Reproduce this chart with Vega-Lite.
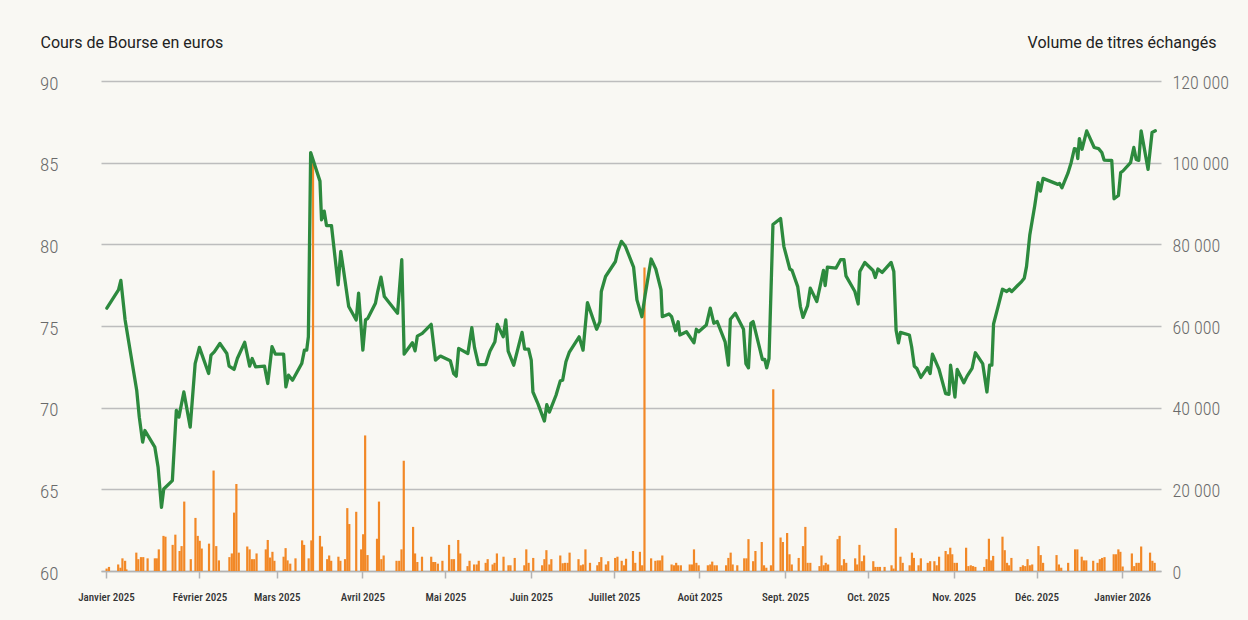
{
  "$schema": "https://vega.github.io/schema/vega-lite/v6.json",
  "width": 1060,
  "height": 490,
  "autosize": {"type": "none"},
  "padding": {"left": 101, "top": 81, "right": 87, "bottom": 49},
  "background": "#f9f8f3",
  "config": {"view": {"stroke": null}, "font": "Roboto"},
  "datasets": {
    "cours": [
      {"jour": -2.5, "cours": 76.09}, {"jour": 1.71, "cours": 77.21}, {"jour": 2.57, "cours": 77.79}, {"jour": 4.11, "cours": 75.37},
      {"jour": 8.3, "cours": 71.07}, {"jour": 9.24, "cours": 69.42}, {"jour": 10.46, "cours": 67.89}, {"jour": 11.28, "cours": 68.6},
      {"jour": 14.87, "cours": 67.58}, {"jour": 16.05, "cours": 66.35}, {"jour": 17.27, "cours": 63.9}, {"jour": 18.09, "cours": 65.02},
      {"jour": 21.21, "cours": 65.53}, {"jour": 22.65, "cours": 69.84}, {"jour": 23.58, "cours": 69.42}, {"jour": 25.37, "cours": 70.96},
      {"jour": 27.67, "cours": 68.81}, {"jour": 29.46, "cours": 72.7}, {"jour": 31.0, "cours": 73.69}, {"jour": 34.34, "cours": 72.09},
      {"jour": 35.2, "cours": 73.22}, {"jour": 36.38, "cours": 73.42}, {"jour": 38.42, "cours": 73.93}, {"jour": 40.93, "cours": 73.32},
      {"jour": 41.76, "cours": 72.54}, {"jour": 43.55, "cours": 72.34}, {"jour": 44.73, "cours": 73.01}, {"jour": 47.39, "cours": 74.0},
      {"jour": 49.18, "cours": 72.54}, {"jour": 50.11, "cours": 73.01}, {"jour": 51.33, "cours": 72.5}, {"jour": 54.56, "cours": 72.54},
      {"jour": 55.74, "cours": 71.48}, {"jour": 57.28, "cours": 73.73}, {"jour": 58.5, "cours": 73.28}, {"jour": 61.48, "cours": 73.28},
      {"jour": 62.3, "cours": 71.27}, {"jour": 63.27, "cours": 71.99}, {"jour": 64.71, "cours": 71.68}, {"jour": 68.04, "cours": 72.7},
      {"jour": 69.01, "cours": 73.52}, {"jour": 69.83, "cours": 73.52}, {"jour": 70.44, "cours": 74.34}, {"jour": 71.27, "cours": 85.62},
      {"jour": 74.64, "cours": 83.87}, {"jour": 75.21, "cours": 81.5}, {"jour": 76.18, "cours": 82.03}, {"jour": 77.0, "cours": 81.15},
      {"jour": 78.8, "cours": 81.15}, {"jour": 81.2, "cours": 77.52}, {"jour": 82.17, "cours": 79.57}, {"jour": 83.24, "cours": 78.34},
      {"jour": 85.04, "cours": 76.19}, {"jour": 87.76, "cours": 75.37}, {"jour": 88.62, "cours": 77.01}, {"jour": 90.16, "cours": 73.52},
      {"jour": 91.13, "cours": 75.37}, {"jour": 91.96, "cours": 75.47}, {"jour": 94.72, "cours": 76.39}, {"jour": 95.54, "cours": 77.11},
      {"jour": 96.73, "cours": 77.99}, {"jour": 97.94, "cours": 76.8}, {"jour": 102.71, "cours": 75.78}, {"jour": 104.25, "cours": 79.06},
      {"jour": 105.11, "cours": 73.28}, {"jour": 108.09, "cours": 73.97}, {"jour": 109.06, "cours": 73.48}, {"jour": 109.88, "cours": 74.38},
      {"jour": 111.67, "cours": 74.55}, {"jour": 114.9, "cours": 75.1}, {"jour": 116.44, "cours": 72.91}, {"jour": 118.23, "cours": 73.16},
      {"jour": 121.82, "cours": 72.87}, {"jour": 123.04, "cours": 72.09}, {"jour": 123.97, "cours": 71.93}, {"jour": 124.83, "cours": 73.63},
      {"jour": 128.17, "cours": 73.32}, {"jour": 129.6, "cours": 74.9}, {"jour": 130.57, "cours": 73.69}, {"jour": 132.0, "cours": 72.64},
      {"jour": 134.62, "cours": 72.64}, {"jour": 136.16, "cours": 73.46}, {"jour": 137.96, "cours": 74.03}, {"jour": 138.82, "cours": 75.1},
      {"jour": 140.97, "cours": 74.34}, {"jour": 141.9, "cours": 75.37}, {"jour": 142.76, "cours": 73.46}, {"jour": 144.77, "cours": 72.6},
      {"jour": 147.78, "cours": 74.61}, {"jour": 148.71, "cours": 73.59}, {"jour": 150.15, "cours": 73.59}, {"jour": 151.11, "cours": 72.91},
      {"jour": 151.72, "cours": 70.96}, {"jour": 153.52, "cours": 70.25}, {"jour": 155.88, "cours": 69.18}, {"jour": 156.74, "cours": 70.18},
      {"jour": 157.68, "cours": 69.73}, {"jour": 160.08, "cours": 70.76}, {"jour": 161.62, "cours": 71.64}, {"jour": 162.48, "cours": 71.68},
      {"jour": 163.67, "cours": 72.81}, {"jour": 164.85, "cours": 73.38}, {"jour": 168.44, "cours": 74.34}, {"jour": 169.87, "cours": 73.52},
      {"jour": 171.45, "cours": 76.43}, {"jour": 174.78, "cours": 74.8}, {"jour": 175.96, "cours": 75.27}, {"jour": 176.47, "cours": 77.11},
      {"jour": 178.01, "cours": 78.03}, {"jour": 181.59, "cours": 78.95}, {"jour": 182.42, "cours": 79.57}, {"jour": 183.74, "cours": 80.18},
      {"jour": 185.18, "cours": 79.88}, {"jour": 188.15, "cours": 78.61}, {"jour": 189.37, "cours": 76.6}, {"jour": 191.16, "cours": 75.57},
      {"jour": 192.35, "cours": 76.91}, {"jour": 194.5, "cours": 79.1}, {"jour": 196.19, "cours": 78.49}, {"jour": 198.09, "cours": 77.21},
      {"jour": 198.55, "cours": 75.57}, {"jour": 200.95, "cours": 75.74}, {"jour": 201.92, "cours": 75.57}, {"jour": 203.36, "cours": 74.71},
      {"jour": 204.29, "cours": 75.26}, {"jour": 204.9, "cours": 74.45}, {"jour": 207.3, "cours": 74.65}, {"jour": 210.02, "cours": 73.97},
      {"jour": 210.88, "cours": 74.8}, {"jour": 211.71, "cours": 74.65}, {"jour": 214.47, "cours": 75.06}, {"jour": 215.91, "cours": 76.09},
      {"jour": 217.2, "cours": 75.17}, {"jour": 218.42, "cours": 75.27}, {"jour": 221.29, "cours": 74.03}, {"jour": 222.47, "cours": 72.6},
      {"jour": 223.18, "cours": 75.41}, {"jour": 224.98, "cours": 75.78}, {"jour": 227.95, "cours": 74.8}, {"jour": 228.81, "cours": 72.7},
      {"jour": 229.74, "cours": 72.44}, {"jour": 230.6, "cours": 75.17}, {"jour": 231.43, "cours": 75.27}, {"jour": 234.77, "cours": 72.95},
      {"jour": 235.63, "cours": 72.95}, {"jour": 236.34, "cours": 72.44}, {"jour": 237.17, "cours": 73.01}, {"jour": 238.6, "cours": 81.21},
      {"jour": 241.36, "cours": 81.58}, {"jour": 242.55, "cours": 79.88}, {"jour": 244.7, "cours": 78.49}, {"jour": 245.52, "cours": 78.4},
      {"jour": 247.57, "cours": 77.41}, {"jour": 248.53, "cours": 76.19}, {"jour": 249.47, "cours": 75.53}, {"jour": 251.15, "cours": 76.25},
      {"jour": 252.12, "cours": 77.32}, {"jour": 254.48, "cours": 76.5}, {"jour": 256.89, "cours": 78.4}, {"jour": 257.5, "cours": 77.48},
      {"jour": 258.32, "cours": 78.61}, {"jour": 261.44, "cours": 78.55}, {"jour": 263.09, "cours": 79.06}, {"jour": 264.31, "cours": 79.06},
      {"jour": 265.03, "cours": 78.07}, {"jour": 268.26, "cours": 77.11}, {"jour": 269.44, "cours": 76.35}, {"jour": 270.05, "cours": 78.34},
      {"jour": 271.84, "cours": 78.89}, {"jour": 274.82, "cours": 78.4}, {"jour": 275.64, "cours": 77.97}, {"jour": 276.61, "cours": 78.49},
      {"jour": 278.15, "cours": 78.28}, {"jour": 281.38, "cours": 78.89}, {"jour": 282.35, "cours": 78.34}, {"jour": 283.17, "cours": 74.75},
      {"jour": 284.03, "cours": 73.97}, {"jour": 284.75, "cours": 74.61}, {"jour": 287.98, "cours": 74.45}, {"jour": 288.8, "cours": 73.73},
      {"jour": 289.77, "cours": 72.54}, {"jour": 290.7, "cours": 72.4}, {"jour": 292.14, "cours": 71.85}, {"jour": 294.54, "cours": 72.46},
      {"jour": 295.5, "cours": 72.09}, {"jour": 296.33, "cours": 73.28}, {"jour": 298.73, "cours": 72.34}, {"jour": 301.1, "cours": 70.86},
      {"jour": 302.32, "cours": 70.82}, {"jour": 302.89, "cours": 72.6}, {"jour": 304.47, "cours": 70.65}, {"jour": 305.29, "cours": 72.34},
      {"jour": 307.69, "cours": 71.52}, {"jour": 308.88, "cours": 71.93}, {"jour": 310.67, "cours": 72.4}, {"jour": 311.86, "cours": 73.36},
      {"jour": 314.51, "cours": 72.7}, {"jour": 316.05, "cours": 70.96}, {"jour": 317.02, "cours": 72.6}, {"jour": 317.84, "cours": 72.6},
      {"jour": 318.45, "cours": 75.12}, {"jour": 320.25, "cours": 76.29}, {"jour": 321.68, "cours": 77.25}, {"jour": 323.22, "cours": 77.11},
      {"jour": 324.19, "cours": 77.25}, {"jour": 325.01, "cours": 77.11}, {"jour": 326.81, "cours": 77.42}, {"jour": 328.6, "cours": 77.72},
      {"jour": 329.57, "cours": 77.93}, {"jour": 330.39, "cours": 78.65}, {"jour": 331.58, "cours": 80.59}, {"jour": 333.37, "cours": 82.38},
      {"jour": 334.59, "cours": 83.77}, {"jour": 335.41, "cours": 83.26}, {"jour": 336.38, "cours": 84.04}, {"jour": 341.75, "cours": 83.67},
      {"jour": 342.33, "cours": 83.73}, {"jour": 343.19, "cours": 83.46}, {"jour": 345.34, "cours": 84.34}, {"jour": 346.53, "cours": 85.0},
      {"jour": 347.71, "cours": 85.86}, {"jour": 348.57, "cours": 85.82}, {"jour": 348.93, "cours": 85.25}, {"jour": 349.51, "cours": 86.47},
      {"jour": 350.47, "cours": 85.82}, {"jour": 352.16, "cours": 86.95}, {"jour": 354.88, "cours": 85.93}, {"jour": 356.46, "cours": 85.86},
      {"jour": 357.64, "cours": 85.62}, {"jour": 358.47, "cours": 85.16}, {"jour": 360.04, "cours": 85.14}, {"jour": 361.23, "cours": 85.14},
      {"jour": 362.06, "cours": 82.79}, {"jour": 363.64, "cours": 82.99}, {"jour": 364.46, "cours": 84.39}, {"jour": 365.28, "cours": 84.49},
      {"jour": 368.04, "cours": 85.0}, {"jour": 369.22, "cours": 85.93}, {"jour": 370.08, "cours": 85.2}, {"jour": 371.01, "cours": 85.14},
      {"jour": 371.87, "cours": 86.95}, {"jour": 374.38, "cours": 84.59}, {"jour": 375.82, "cours": 86.85}, {"jour": 377.0, "cours": 86.95}
    ],
    "volumes": [
      {"jour": -2.59, "volume": 600}, {"jour": -1.73, "volume": 1000}, {"jour": 1.6, "volume": 1600}, {"jour": 2.42, "volume": 800},
      {"jour": 3.14, "volume": 3100}, {"jour": 4.11, "volume": 2500}, {"jour": 4.58, "volume": 400}, {"jour": 8.16, "volume": 4500},
      {"jour": 8.88, "volume": 2900}, {"jour": 9.85, "volume": 3400}, {"jour": 10.67, "volume": 3400}, {"jour": 12.25, "volume": 3100},
      {"jour": 14.87, "volume": 3100}, {"jour": 15.58, "volume": 3100}, {"jour": 16.3, "volume": 5300}, {"jour": 17.99, "volume": 8600},
      {"jour": 18.7, "volume": 8400}, {"jour": 21.32, "volume": 6400}, {"jour": 22.29, "volume": 8900}, {"jour": 23.83, "volume": 4900},
      {"jour": 24.55, "volume": 6100}, {"jour": 25.51, "volume": 17000}, {"jour": 27.88, "volume": 2900}, {"jour": 29.57, "volume": 13000},
      {"jour": 30.39, "volume": 8600}, {"jour": 31.11, "volume": 7400}, {"jour": 31.83, "volume": 5500}, {"jour": 34.48, "volume": 6700},
      {"jour": 36.13, "volume": 24600}, {"jour": 37.1, "volume": 6100}, {"jour": 38.06, "volume": 2600}, {"jour": 41.86, "volume": 3400},
      {"jour": 42.73, "volume": 4300}, {"jour": 43.55, "volume": 14300}, {"jour": 44.38, "volume": 21300}, {"jour": 45.24, "volume": 4500},
      {"jour": 48.32, "volume": 6000}, {"jour": 49.18, "volume": 5300}, {"jour": 50.0, "volume": 2900}, {"jour": 50.83, "volume": 2900},
      {"jour": 51.69, "volume": 4300}, {"jour": 55.03, "volume": 5300}, {"jour": 55.74, "volume": 7600}, {"jour": 56.57, "volume": 3300},
      {"jour": 57.43, "volume": 4700}, {"jour": 58.14, "volume": 2500}, {"jour": 61.48, "volume": 3500}, {"jour": 62.2, "volume": 5600},
      {"jour": 62.91, "volume": 2600}, {"jour": 63.88, "volume": 1800}, {"jour": 65.78, "volume": 3100}, {"jour": 68.18, "volume": 7500},
      {"jour": 68.9, "volume": 6400}, {"jour": 70.55, "volume": 3100}, {"jour": 71.52, "volume": 7500}, {"jour": 72.13, "volume": 100000},
      {"jour": 74.64, "volume": 8600}, {"jour": 75.35, "volume": 6000}, {"jour": 77.25, "volume": 2900}, {"jour": 77.97, "volume": 3800},
      {"jour": 78.69, "volume": 2500}, {"jour": 81.31, "volume": 3500}, {"jour": 82.02, "volume": 2500}, {"jour": 83.71, "volume": 2900},
      {"jour": 84.53, "volume": 15400}, {"jour": 85.25, "volume": 11500}, {"jour": 87.76, "volume": 14500}, {"jour": 89.55, "volume": 5300},
      {"jour": 90.27, "volume": 9000}, {"jour": 90.99, "volume": 33200}, {"jour": 91.85, "volume": 3900}, {"jour": 95.29, "volume": 7900},
      {"jour": 96.0, "volume": 17000}, {"jour": 96.86, "volume": 2900}, {"jour": 97.69, "volume": 3800}, {"jour": 102.35, "volume": 2500},
      {"jour": 103.32, "volume": 2500}, {"jour": 104.15, "volume": 5300}, {"jour": 104.97, "volume": 27000}, {"jour": 108.34, "volume": 10800},
      {"jour": 109.06, "volume": 4300}, {"jour": 109.88, "volume": 2200}, {"jour": 111.57, "volume": 3500}, {"jour": 114.9, "volume": 3500},
      {"jour": 115.62, "volume": 2200}, {"jour": 116.34, "volume": 2200}, {"jour": 117.31, "volume": 1800}, {"jour": 118.96, "volume": 2500},
      {"jour": 121.36, "volume": 6400}, {"jour": 122.32, "volume": 2900}, {"jour": 123.15, "volume": 2900}, {"jour": 124.69, "volume": 7600},
      {"jour": 125.41, "volume": 4300}, {"jour": 128.06, "volume": 1200}, {"jour": 128.78, "volume": 2500}, {"jour": 130.43, "volume": 1600},
      {"jour": 131.39, "volume": 1600}, {"jour": 132.11, "volume": 2500}, {"jour": 134.62, "volume": 2000}, {"jour": 135.34, "volume": 2900},
      {"jour": 137.13, "volume": 1600}, {"jour": 137.85, "volume": 2000}, {"jour": 138.68, "volume": 4300}, {"jour": 141.08, "volume": 3500},
      {"jour": 142.87, "volume": 1400}, {"jour": 143.59, "volume": 1400}, {"jour": 145.13, "volume": 3200}, {"jour": 148.61, "volume": 1400},
      {"jour": 149.32, "volume": 5300}, {"jour": 150.15, "volume": 2000}, {"jour": 151.83, "volume": 3200}, {"jour": 155.06, "volume": 1400},
      {"jour": 155.88, "volume": 2900}, {"jour": 156.6, "volume": 5100}, {"jour": 157.68, "volume": 1600}, {"jour": 158.39, "volume": 2900},
      {"jour": 161.62, "volume": 3800}, {"jour": 162.48, "volume": 1900}, {"jour": 163.31, "volume": 2000}, {"jour": 164.28, "volume": 2000},
      {"jour": 164.99, "volume": 4500}, {"jour": 168.22, "volume": 2900}, {"jour": 169.04, "volume": 1400}, {"jour": 169.87, "volume": 1600},
      {"jour": 170.73, "volume": 5300}, {"jour": 172.38, "volume": 2000}, {"jour": 175.03, "volume": 1400}, {"jour": 175.75, "volume": 2200},
      {"jour": 176.47, "volume": 3400}, {"jour": 178.12, "volume": 1600}, {"jour": 178.98, "volume": 2400}, {"jour": 181.49, "volume": 3200},
      {"jour": 182.31, "volume": 3500}, {"jour": 183.85, "volume": 2500}, {"jour": 184.71, "volume": 1400}, {"jour": 185.43, "volume": 3000},
      {"jour": 187.94, "volume": 4900}, {"jour": 188.76, "volume": 2000}, {"jour": 190.45, "volume": 4700}, {"jour": 191.27, "volume": 1400},
      {"jour": 192.1, "volume": 74300}, {"jour": 194.5, "volume": 3100}, {"jour": 196.04, "volume": 2500}, {"jour": 196.91, "volume": 2600},
      {"jour": 197.73, "volume": 2600}, {"jour": 198.55, "volume": 3800}, {"jour": 201.92, "volume": 1600}, {"jour": 202.75, "volume": 1400},
      {"jour": 203.57, "volume": 2000}, {"jour": 204.29, "volume": 1400}, {"jour": 205.26, "volume": 1400}, {"jour": 208.48, "volume": 1600},
      {"jour": 209.31, "volume": 1600}, {"jour": 210.02, "volume": 5300}, {"jour": 210.88, "volume": 2000}, {"jour": 211.71, "volume": 1400},
      {"jour": 215.04, "volume": 1400}, {"jour": 215.91, "volume": 1600}, {"jour": 216.62, "volume": 2300}, {"jour": 217.45, "volume": 1400},
      {"jour": 218.27, "volume": 1400}, {"jour": 221.64, "volume": 1400}, {"jour": 222.47, "volume": 3200}, {"jour": 223.29, "volume": 4500},
      {"jour": 224.01, "volume": 1600}, {"jour": 225.69, "volume": 1400}, {"jour": 228.2, "volume": 3100}, {"jour": 229.03, "volume": 3100},
      {"jour": 229.74, "volume": 7800}, {"jour": 231.43, "volume": 2400}, {"jour": 232.26, "volume": 4900}, {"jour": 234.55, "volume": 7100},
      {"jour": 235.37, "volume": 1400}, {"jour": 236.2, "volume": 800}, {"jour": 237.88, "volume": 1400}, {"jour": 238.71, "volume": 44500},
      {"jour": 241.36, "volume": 8200}, {"jour": 242.19, "volume": 7100}, {"jour": 243.73, "volume": 9300}, {"jour": 244.59, "volume": 4100},
      {"jour": 245.41, "volume": 1600}, {"jour": 247.92, "volume": 3200}, {"jour": 249.47, "volume": 6100}, {"jour": 250.33, "volume": 10800},
      {"jour": 251.15, "volume": 2000}, {"jour": 252.12, "volume": 2000}, {"jour": 255.45, "volume": 1200}, {"jour": 256.17, "volume": 3800},
      {"jour": 256.99, "volume": 1400}, {"jour": 257.71, "volume": 2000}, {"jour": 258.57, "volume": 1600}, {"jour": 262.01, "volume": 7800},
      {"jour": 262.73, "volume": 8600}, {"jour": 263.45, "volume": 1400}, {"jour": 264.31, "volume": 2900}, {"jour": 265.13, "volume": 2000},
      {"jour": 268.36, "volume": 3100}, {"jour": 269.08, "volume": 1600}, {"jour": 269.91, "volume": 6400}, {"jour": 270.76, "volume": 2400},
      {"jour": 271.59, "volume": 3800}, {"jour": 274.92, "volume": 2400}, {"jour": 275.64, "volume": 1000}, {"jour": 276.5, "volume": 1000},
      {"jour": 277.33, "volume": 1000}, {"jour": 279.01, "volume": 1000}, {"jour": 281.52, "volume": 1400}, {"jour": 282.24, "volume": 600},
      {"jour": 283.06, "volume": 10500}, {"jour": 284.75, "volume": 3500}, {"jour": 285.57, "volume": 2000}, {"jour": 288.08, "volume": 1400},
      {"jour": 288.91, "volume": 4500}, {"jour": 289.62, "volume": 3200}, {"jour": 291.31, "volume": 1400}, {"jour": 292.14, "volume": 3100},
      {"jour": 294.64, "volume": 2000}, {"jour": 295.5, "volume": 2400}, {"jour": 297.04, "volume": 2400}, {"jour": 297.87, "volume": 1400},
      {"jour": 298.73, "volume": 3500}, {"jour": 301.1, "volume": 4900}, {"jour": 301.96, "volume": 4100}, {"jour": 302.78, "volume": 5700},
      {"jour": 303.5, "volume": 4100}, {"jour": 304.33, "volume": 2000}, {"jour": 305.19, "volume": 2000}, {"jour": 308.52, "volume": 5700},
      {"jour": 309.34, "volume": 1200}, {"jour": 310.21, "volume": 1400}, {"jour": 311.03, "volume": 1200}, {"jour": 311.86, "volume": 1000},
      {"jour": 315.08, "volume": 1000}, {"jour": 315.94, "volume": 2900}, {"jour": 316.77, "volume": 7900}, {"jour": 317.59, "volume": 2600},
      {"jour": 318.31, "volume": 3700}, {"jour": 321.68, "volume": 8400}, {"jour": 322.5, "volume": 5100}, {"jour": 323.33, "volume": 2000},
      {"jour": 324.04, "volume": 1400}, {"jour": 324.91, "volume": 3200}, {"jour": 328.24, "volume": 1000}, {"jour": 329.07, "volume": 1400},
      {"jour": 329.93, "volume": 1200}, {"jour": 330.75, "volume": 2900}, {"jour": 331.58, "volume": 1400}, {"jour": 332.44, "volume": 1600},
      {"jour": 334.7, "volume": 6100}, {"jour": 335.52, "volume": 3900}, {"jour": 336.38, "volume": 2000}, {"jour": 341.25, "volume": 3900},
      {"jour": 342.11, "volume": 1600}, {"jour": 342.94, "volume": 800}, {"jour": 345.45, "volume": 2000}, {"jour": 347.96, "volume": 5300},
      {"jour": 348.78, "volume": 5300}, {"jour": 350.36, "volume": 3500}, {"jour": 351.19, "volume": 2600}, {"jour": 352.01, "volume": 2600},
      {"jour": 354.52, "volume": 2500}, {"jour": 356.1, "volume": 2000}, {"jour": 356.92, "volume": 2900}, {"jour": 357.75, "volume": 3200},
      {"jour": 358.61, "volume": 3400}, {"jour": 361.94, "volume": 4100}, {"jour": 362.77, "volume": 4100}, {"jour": 363.63, "volume": 5300},
      {"jour": 364.35, "volume": 4700}, {"jour": 365.17, "volume": 1100}, {"jour": 368.51, "volume": 4300}, {"jour": 369.37, "volume": 1200},
      {"jour": 370.19, "volume": 2000}, {"jour": 371.02, "volume": 2000}, {"jour": 371.88, "volume": 6000}, {"jour": 375.1, "volume": 4500},
      {"jour": 375.93, "volume": 2500}, {"jour": 376.76, "volume": 2000}
    ]
  },
  "encoding": {
    "x": {
      "field": "jour",
      "type": "quantitative",
      "scale": {"domain": [-2.81, 377.25], "nice": false, "zero": false},
      "axis": {
        "title": null,
        "values": [-2.81, 31, 59, 90, 120, 151, 181, 212, 243, 273, 304, 334, 365],
        "labelExpr": "datum.value < 0 ? 'Janvier 2025' : ['Janvier','Février','Mars','Avril','Mai','Juin','Juillet','Août','Sept.','Oct.','Nov.','Déc.'][month(datetime(2025, 0, 1 + datum.value))] + ' ' + year(datetime(2025, 0, 1 + datum.value))",
        "grid": false,
        "domain": true,
        "ticks": true,
        "domainColor": "#b3b3b3",
        "domainWidth": 1.5,
        "tickColor": "#b3b3b3",
        "tickWidth": 1.5,
        "tickSize": 7,
        "labelPadding": 13,
        "labelFont": "'Roboto Condensed', 'DejaVu Sans Condensed', Roboto, sans-serif",
        "labelFontSize": 11,
        "labelFontWeight": 500,
        "labelColor": "#333333",
        "labelOverlap": false,
        "labelFlush": false,
        "labelBound": false
      }
    }
  },
  "layer": [
    {
      "data": {"name": "volumes"},
      "mark": {"type": "bar", "orient": "vertical", "color": "#f28826", "size": 2.2},
      "encoding": {
        "y": {
          "field": "volume",
          "type": "quantitative",
          "scale": {"domain": [0, 120000], "nice": false},
          "axis": {
            "orient": "right",
            "values": [0, 20000, 40000, 60000, 80000, 100000, 120000],
            "labelExpr": "replace(format(datum.value, ','), ',', ' ')",
            "grid": false,
            "domain": false,
            "ticks": false,
            "tickSize": 0,
            "labelPadding": 11,
            "labelAlign": "left",
            "labelBaseline": "middle",
            "labelOffset": 2,
            "labelFont": "'Roboto Condensed', 'DejaVu Sans Condensed', Roboto, sans-serif",
            "labelFontSize": 18,
            "labelFontWeight": 300,
            "labelColor": "#6a6a6a",
            "title": "Volume de titres échangés",
            "titleAngle": 0,
            "titleAlign": "right",
            "titleBaseline": "alphabetic",
            "titleX": 55,
            "titleY": -34,
            "titleFont": "Roboto",
            "titleFontSize": 16,
            "titleFontWeight": "normal",
            "titleColor": "#222222"
          }
        }
      }
    },
    {
      "data": {"name": "cours"},
      "mark": {"type": "line", "color": "#2d8a3e", "strokeWidth": 3.3, "strokeJoin": "round", "strokeCap": "round"},
      "encoding": {
        "y": {
          "field": "cours",
          "type": "quantitative",
          "scale": {"domain": [60, 90], "nice": false, "zero": false},
          "axis": {
            "orient": "left",
            "values": [60, 65, 70, 75, 80, 85, 90],
            "grid": true,
            "gridColor": "#bdbdbd",
            "gridWidth": 1.5,
            "domain": false,
            "ticks": false,
            "tickSize": 0,
            "labelPadding": 43,
            "labelAlign": "right",
            "labelBaseline": "middle",
            "labelOffset": 2,
            "labelFont": "'Roboto Condensed', 'DejaVu Sans Condensed', Roboto, sans-serif",
            "labelFontSize": 19,
            "labelFontWeight": 300,
            "labelColor": "#6a6a6a",
            "title": "Cours de Bourse en euros",
            "titleAngle": 0,
            "titleAlign": "left",
            "titleBaseline": "alphabetic",
            "titleX": -61,
            "titleY": -34,
            "titleFont": "Roboto",
            "titleFontSize": 16,
            "titleFontWeight": "normal",
            "titleColor": "#222222"
          }
        }
      }
    }
  ],
  "resolve": {"scale": {"y": "independent"}}
}
